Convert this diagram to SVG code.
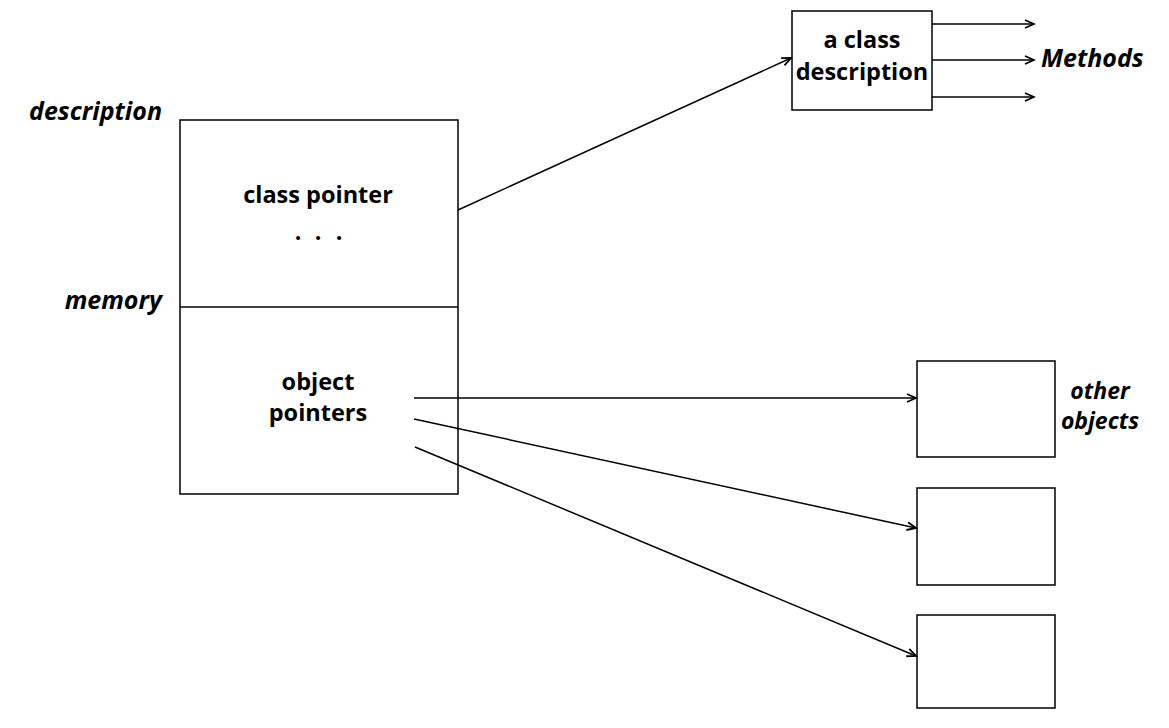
<svg xmlns="http://www.w3.org/2000/svg" width="1169" height="728" viewBox="0 0 1169 728">
<defs>
<style>
.box{fill:#fff;stroke:#000;stroke-width:1.5}
.t{font-family:"Open Sans","Noto Sans","Liberation Sans",sans-serif;font-weight:bold;font-size:23.5px;fill:#000}
.i{font-style:italic;font-size:25px}
.s{font-size:23px}
.c{stroke:#000;stroke-width:1.5;fill:none;marker-end:url(#ah)}
</style>
<marker id="ah" markerWidth="12" markerHeight="10" refX="10" refY="5" orient="auto" markerUnits="userSpaceOnUse">
<path d="M1,1 L10,5 L1,9" fill="none" stroke="#000" stroke-width="1.8"/>
</marker>
</defs>
<rect width="1169" height="728" fill="#fff"/>
<g id="labels">
<text class="t i" x="162" y="120" text-anchor="end">description</text>
<text class="t i" x="162" y="309" text-anchor="end">memory</text>
</g>
<g id="object">
<rect class="box" x="180" y="120" width="278" height="374"/>
<line x1="180" y1="307" x2="458" y2="307" stroke="#000" stroke-width="1.5"/>
<text class="t" x="318" y="203" text-anchor="middle">class pointer</text>
<text class="t" x="298 318 339" y="240" text-anchor="middle">...</text>
<text class="t" x="318" y="390" text-anchor="middle">object</text>
<text class="t" x="318" y="421" text-anchor="middle">pointers</text>
</g>
<g id="classdesc">
<rect class="box" x="792" y="11" width="140" height="99"/>
<text class="t" x="862" y="48" text-anchor="middle">a class</text>
<text class="t" x="862" y="80" text-anchor="middle">description</text>
</g>
<g id="methods">
<text class="t i" x="1041" y="67">Methods</text>
</g>
<g id="obj1">
<rect class="box" x="917" y="361" width="138" height="96"/>
</g>
<g id="obj2">
<rect class="box" x="917" y="488" width="138" height="97"/>
</g>
<g id="obj3">
<rect class="box" x="917" y="615" width="138" height="93"/>
</g>
<g id="otherlabel">
<text class="t i s" x="1100" y="399" text-anchor="middle">other</text>
<text class="t i s" x="1100" y="429" text-anchor="middle">objects</text>
</g>
<g id="connectors">
<line class="c" x1="458" y1="210" x2="791" y2="58"/>
<line class="c" x1="932" y1="24" x2="1034" y2="24"/>
<line class="c" x1="932" y1="60" x2="1034" y2="60"/>
<line class="c" x1="932" y1="97" x2="1034" y2="97"/>
<line class="c" x1="414" y1="398" x2="916" y2="398"/>
<line class="c" x1="414" y1="419" x2="916" y2="528"/>
<line class="c" x1="415" y1="447" x2="916" y2="656"/>
</g>
</svg>
